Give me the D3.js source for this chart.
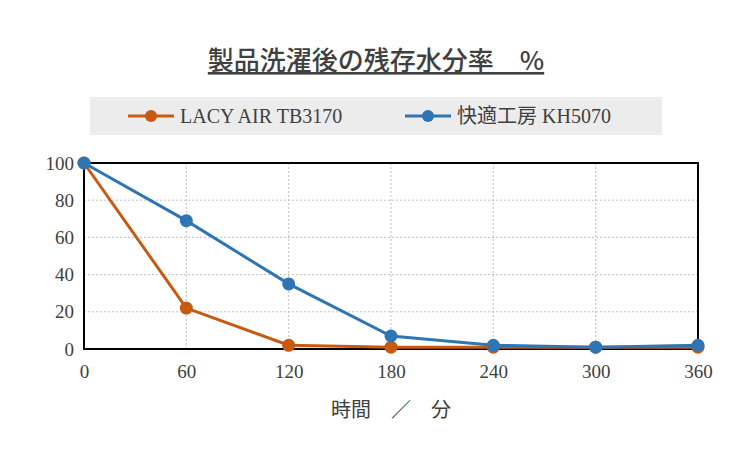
<!DOCTYPE html>
<html><head><meta charset="utf-8">
<script src="https://cdn.jsdelivr.net/npm/d3@7"></script>
<style>body{margin:0;background:#fff}</style>
</head><body><div id="viz"></div>
<script>
// data
let minutes = [0, 60, 120, 180, 240, 300, 360]
let lacy = [100, 22, 2, 1, 1, 1, 1]
let kaiteki = [100, 69, 35, 7, 2, 1, 2]
let yTicks = [0, 20, 40, 60, 80, 100]
let seriesNames = ['LACY AIR TB3170', '快適工房 KH5070']
let colors = ['#c55a11', '#2e75b6']

let font = "'Liberation Serif', 'Noto Sans CJK JP', serif"
let svg = d3.select('#viz').append('svg').attr('width', 750).attr('height', 470)

let x = d3.scaleLinear().domain([0, 360]).range([84, 698])
let y = d3.scaleLinear().domain([0, 100]).range([349, 163])

//title
svg.append('text').attr('x', 376).attr('y', 70).attr('text-anchor', 'middle')
	.style('font-family', "'Noto Sans CJK JP', sans-serif").style('font-size', '26px')
	.style('font-weight', 500).attr('fill', '#404040')
	.attr('text-decoration', 'underline')
	.text('製品洗濯後の残存水分率　%')

//legend
svg.append('rect').attr('x', 90).attr('y', 97).attr('width', 572).attr('height', 38).attr('fill', '#ececec')
let lg = svg.selectAll('.lg').data(seriesNames).enter().append('g')
	.attr('transform', (d, i) => `translate(${i ? 405 : 128},116)`)
lg.append('line').attr('x1', 0).attr('x2', 46).attr('stroke', (d, i) => colors[i]).attr('stroke-width', 3)
lg.append('circle').attr('cx', 23).attr('r', 6).attr('fill', (d, i) => colors[i])
lg.append('text').attr('x', 52).attr('y', 7).style('font-family', font).style('font-size', '20px')
	.attr('fill', '#404040').text(d => d)

//grid
svg.selectAll('.gx').data(minutes.slice(1, -1)).enter().append('line')
	.attr('x1', d => x(d)).attr('x2', d => x(d)).attr('y1', 163).attr('y2', 349)
	.attr('stroke', '#bfbfbf').attr('stroke-dasharray', '2,2')
svg.selectAll('.gy').data(yTicks.slice(1, -1)).enter().append('line')
	.attr('y1', d => y(d)).attr('y2', d => y(d)).attr('x1', 84).attr('x2', 698)
	.attr('stroke', '#bfbfbf').attr('stroke-dasharray', '2,2')
svg.append('rect').attr('x', 84).attr('y', 163).attr('width', 614).attr('height', 186)
	.attr('fill', 'none').attr('stroke', '#000').attr('stroke-width', 2)

//axes
let xa = svg.append('g').attr('transform', 'translate(0,349)')
	.call(d3.axisBottom(x).tickValues(minutes).tickSize(0).tickPadding(16))
let ya = svg.append('g').attr('transform', 'translate(84,0)')
	.call(d3.axisLeft(y).tickValues(yTicks).tickSize(0).tickPadding(10))
;[xa, ya].forEach(a => {
	a.select('.domain').remove()
	a.selectAll('text').style('font-family', font).style('font-size', '19px').attr('fill', '#404040')
})
svg.append('text').attr('x', 391).attr('y', 417).attr('text-anchor', 'middle')
	.style('font-family', font).style('font-size', '20px').attr('fill', '#404040').text('時間　／　分')

//lines
let line = d3.line().x((d, i) => x(minutes[i])).y(d => y(d))
;[lacy, kaiteki].forEach((s, k) => {
	svg.append('path').datum(s).attr('d', line).attr('fill', 'none')
		.attr('stroke', colors[k]).attr('stroke-width', 3)
	svg.selectAll('.p' + k).data(s).enter().append('circle')
		.attr('cx', (d, i) => x(minutes[i])).attr('cy', d => y(d)).attr('r', 6.5).attr('fill', colors[k])
})
</script></body></html>
